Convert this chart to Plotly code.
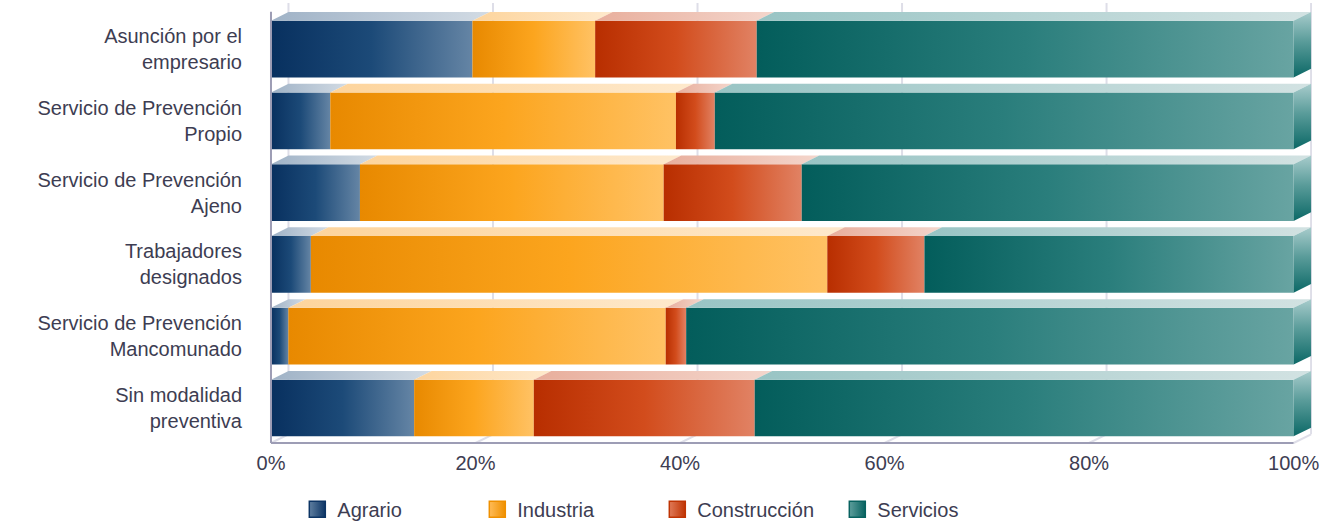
import plotly.graph_objects as go

# Modalidad preventiva por sector (% sobre el total de cada modalidad)
CATEGORIES = [
    "Asunción por el<br>empresario",
    "Servicio de Prevención<br>Propio",
    "Servicio de Prevención<br>Ajeno",
    "Trabajadores<br>designados",
    "Servicio de Prevención<br>Mancomunado",
    "Sin modalidad<br>preventiva",
]
SERIES = ["Agrario", "Industria", "Construcción", "Servicios"]
AGRARIO = [19.7, 5.8, 8.7, 3.9, 1.7, 14.0]
INDUSTRIA = [12.0, 33.8, 29.7, 50.5, 36.9, 11.7]
CONSTRUCCION = [15.8, 3.8, 13.5, 9.5, 2.0, 21.6]
SERVICIOS = [52.5, 56.6, 48.1, 36.1, 59.4, 52.7]
X_TICKS = [0, 20, 40, 60, 80, 100]
X_TICK_LABELS = ["0%", "20%", "40%", "60%", "80%", "100%"]

# colores (cara frontal, cara superior, lateral)
FRONT = {
    "Agrario": [[0, "#08305f"], [0.5, "#1c4a78"], [1, "#6585a5"]],
    "Industria": [[0, "#e88900"], [0.5, "#fca51e"], [1, "#ffc264"]],
    "Construcción": [[0, "#b82e00"], [0.5, "#d24c1c"], [1, "#e18264"]],
    "Servicios": [[0, "#035d5b"], [0.5, "#2a7e7c"], [1, "#68a4a2"]],
}
TOP = {
    "Agrario": [[0, "#9fb2c6"], [1, "#d2dbe4"]],
    "Industria": [[0, "#fdd49c"], [1, "#fee9cc"]],
    "Construcción": [[0, "#e8ae9c"], [1, "#f4d6cc"]],
    "Servicios": [[0, "#98c4c4"], [1, "#d2e2e2"]],
}
SIDE = [[0, "#a8cccc"], [0.45, "#5a9c9a"], [1, "#0b6866"]]
LEGEND = {
    "Agrario": ("#0d3565", "#5f7fa0"),
    "Industria": ("#ef9000", "#ffbc58"),
    "Construcción": ("#bf3404", "#e07a58"),
    "Servicios": ("#086260", "#5e9e9c"),
}

TEXT = "#3d3d52"
GRID = "#dedee8"
AXIS = "#9d9db5"

# profundidad del efecto 3D
DX, DY, H = 1.71, 0.121, 0.395
Y_TOP, Y_FLOOR, Y_BOTTOM = -0.641, 5.487, 5.543

values = dict(zip(SERIES, [AGRARIO, INDUSTRIA, CONSTRUCCION, SERVICIOS]))

fig = go.Figure()

for i, cat in enumerate(CATEGORIES):
    start = 0
    for s in SERIES:
        v = values[s][i]
        end = start + v
        # cara frontal
        fig.add_trace(go.Scatter(
            x=[start, end, end, start, start],
            y=[i - H, i - H, i + H, i + H, i - H],
            mode="lines", fill="toself", line=dict(width=0),
            fillgradient=dict(type="horizontal", colorscale=FRONT[s]),
            hoveron="fills", hoverinfo="text",
            text=f"{cat.replace('<br>', ' ')}<br>{s}: {v:.1f}%",
            showlegend=False,
        ))
        # cara superior
        fig.add_trace(go.Scatter(
            x=[start, end, end + DX, start + DX, start],
            y=[i - H, i - H, i - H - DY, i - H - DY, i - H],
            mode="lines", fill="toself", line=dict(width=0),
            fillgradient=dict(type="horizontal", colorscale=TOP[s]),
            hoverinfo="skip", showlegend=False,
        ))
        start = end
    # cara lateral (claro arriba, oscuro abajo)
    fig.add_trace(go.Scatter(
        x=[start, start + DX, start + DX, start, start],
        y=[i - H, i - H - DY, i + H - DY, i + H, i - H],
        mode="lines", fill="toself", line=dict(width=0),
        fillgradient=dict(type="vertical", colorscale=SIDE,
                          start=i - H - DY, stop=i + H),
        hoverinfo="skip", showlegend=False,
    ))

# leyenda
for s in SERIES:
    dark, light = LEGEND[s]
    fig.add_trace(go.Scatter(
        x=[None], y=[None], mode="markers", name=s,
        marker=dict(symbol="square", size=20, color=light,
                    gradient=dict(type="horizontal", color=dark),
                    line=dict(width=1.5, color=dark)),
    ))

# rejilla del fondo y suelo
for t in X_TICKS:
    fig.add_shape(type="line", x0=t + DX, x1=t + DX, y0=Y_TOP, y1=Y_FLOOR - DY,
                  line=dict(color=GRID, width=2), layer="below")
    fig.add_shape(type="line", x0=t + DX, x1=t, y0=Y_FLOOR - DY, y1=Y_FLOOR,
                  line=dict(color=GRID, width=2), layer="below")

# ejes
fig.add_shape(type="line", x0=0, x1=0, y0=Y_TOP + DY, y1=Y_FLOOR,
              line=dict(color=AXIS, width=2))
fig.add_shape(type="line", x0=0, x1=100, y0=Y_FLOOR, y1=Y_FLOOR,
              line=dict(color=AXIS, width=2))

fig.update_layout(
    width=1333,
    height=521,
    paper_bgcolor="white",
    plot_bgcolor="white",
    font=dict(family="Arial, Liberation Sans, sans-serif", size=20, color=TEXT),
    margin=dict(l=267, r=21, t=3, b=74, autoexpand=False),
    xaxis=dict(
        range=[-0.39, 101.8], tickvals=X_TICKS, ticktext=X_TICK_LABELS,
        showgrid=False, zeroline=False, showline=False, ticklabelstandoff=2,
        fixedrange=True,
    ),
    yaxis=dict(
        range=[Y_BOTTOM, Y_TOP], tickvals=list(range(len(CATEGORIES))),
        ticktext=CATEGORIES, showgrid=False, zeroline=False, showline=False,
        ticklabelstandoff=24, fixedrange=True,
    ),
    legend=dict(
        orientation="h", x=0.029, xanchor="left", y=-0.14, yanchor="middle",
        entrywidth=135, font=dict(size=20, color=TEXT),
    ),
    hovermode="closest",
)

fig.write_html("out.html", config={"displayModeBar": False},
               post_script="document.body.style.margin = '0';")
